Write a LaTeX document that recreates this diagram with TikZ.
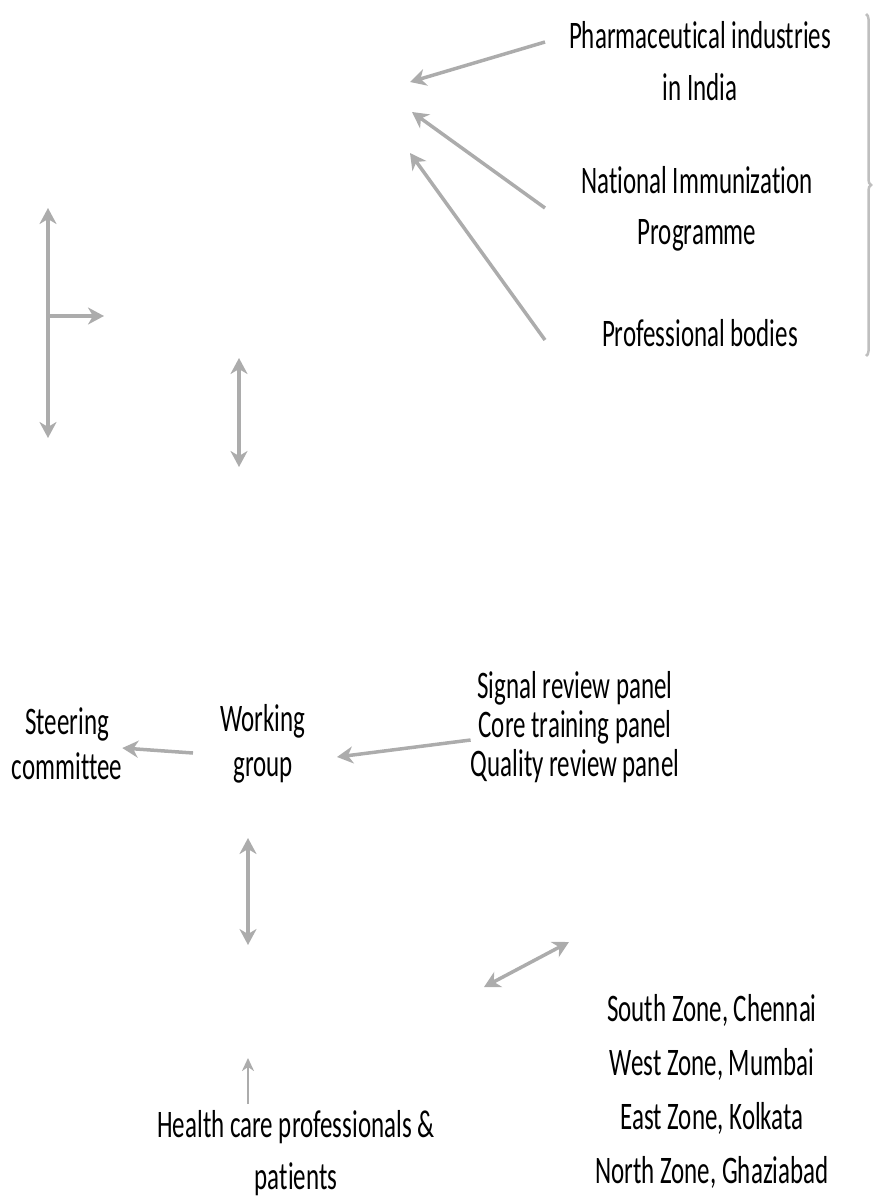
\documentclass[tikz,border=0pt]{standalone}
\usepackage{fontspec}
\setmainfont{Carlito}[FakeStretch=0.64,Ligatures=NoCommon]
\usetikzlibrary{arrows.meta,decorations.pathreplacing}

\begin{document}
\begin{tikzpicture}[x=1pt,y=-1pt,
  txt/.style={align=center,inner sep=0pt,font=\fontsize{39}{#1}\selectfont},
  txt/.default=52,
  link/.style={draw=gray!65,line width=3.5pt,-{Stealth[length=16pt,width=17pt,inset=5pt]}},
  dlink/.style={link,{Stealth[length=16pt,width=17pt,inset=5pt]}-{Stealth[length=16pt,width=17pt,inset=5pt]}}]
\useasboundingbox (0,0) rectangle (873,1202);

% Upper block: stakeholders
\node[txt] (pharma) at (700,61) {Pharmaceutical industries\\in India};
\node[txt=51] (nip) at (697,209) {National Immunization\\Programme};
\node[txt] (prof) at (700,333) {Professional bodies};
\draw[gray!50,line width=2.5pt,decorate,decoration={brace,amplitude=5pt}] (866,14) -- (866,356);

% Arrows into the upper block
\coordinate (pharmaTail) at (545,42);
\coordinate (pharmaHead) at (410,82);
\coordinate (nipTail) at (545,208);
\coordinate (nipHead) at (412,112);
\coordinate (profTail) at (545,340);
\coordinate (profHead) at (410,153);
\draw[link] (pharmaTail) -- (pharmaHead);
\draw[link] (nipTail) -- (nipHead);
\draw[link] (profTail) -- (profHead);

% Left arrows
\coordinate (leftTop) at (48,208);
\coordinate (leftMid) at (48,316);
\coordinate (leftBot) at (48,438);
\coordinate (leftOut) at (104,316);
\draw[dlink] (leftTop) -- (leftBot);
\draw[link,shorten <=-1.75pt] (leftMid) -- (leftOut);
\coordinate (midTop) at (239,358);
\coordinate (midBot) at (239,467);
\draw[dlink] (midTop) -- (midBot);

% Middle row
\node[txt=45] (steer) at (67,744) {Steering\\committee};
\node[txt=45] (work) at (263,744) {Working\\group};
\node[txt=39] (panels) at (575,727) {Signal review panel\\Core training panel\\Quality review panel};
\draw[link] (193,753) -- (steer.east |- 0,748);
\draw[link] (panels.west |- 0,740) -- (337,757);

% Lower part
\coordinate (workDown) at (248,838);
\coordinate (hcpUp) at (248,945);
\draw[dlink] (workDown) -- (hcpUp);
\coordinate (diagLow) at (484,987);
\coordinate (diagHigh) at (569,942);
\draw[dlink] (diagLow) -- (diagHigh);
\node[txt=54] (zones) at (712,1091) {South Zone, Chennai\\West Zone, Mumbai\\East Zone, Kolkata\\North Zone, Ghaziabad};
\node[txt=52] (hcp) at (296,1153) {Health care professionals \&\\patients};
\coordinate (hcpTip) at (248,1058);
\draw[draw=gray!65,line width=2.5pt,-{Stealth[length=13pt,width=12pt,inset=4pt]}] (hcp.north -| hcpTip) ++(0,-6) -- (hcpTip);
\end{tikzpicture}
\end{document}
